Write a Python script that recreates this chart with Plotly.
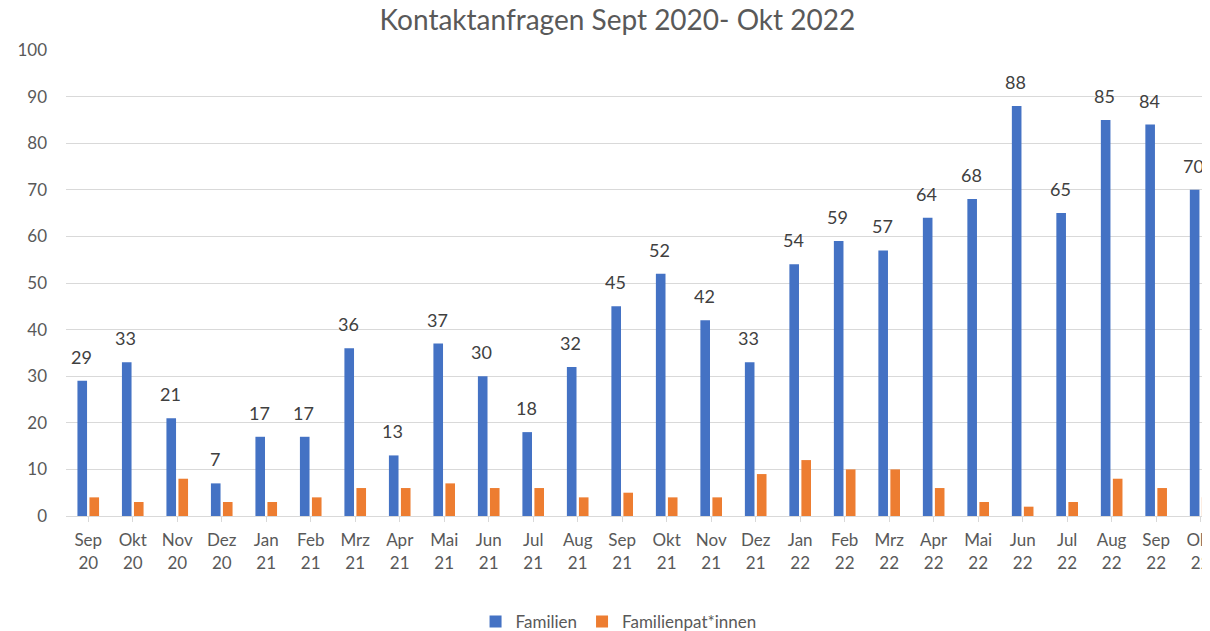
import plotly.graph_objects as go

months = ["Sep", "Okt", "Nov", "Dez", "Jan", "Feb", "Mrz", "Apr", "Mai", "Jun", "Jul", "Aug",
          "Sep", "Okt", "Nov", "Dez", "Jan", "Feb", "Mrz", "Apr", "Mai", "Jun", "Jul", "Aug",
          "Sep", "Okt"]
years = ["20", "20", "20", "20", "21", "21", "21", "21", "21", "21", "21", "21",
         "21", "21", "21", "21", "22", "22", "22", "22", "22", "22", "22", "22",
         "22", "22"]
categories = [f"{m}<br>{y}" for m, y in zip(months, years)]
familien = [29, 33, 21, 7, 17, 17, 36, 13, 37, 30, 18, 32, 45, 52, 42, 33, 54, 59, 57, 64, 68, 88, 65, 85, 84, 70]
paten = [4, 3, 8, 3, 3, 4, 6, 6, 7, 6, 6, 4, 5, 4, 4, 9, 12, 10, 10, 6, 3, 2, 3, 8, 6, 4]

idx = list(range(len(categories)))
FONT = "Lato, Open Sans, sans-serif"
GREY = "#595959"

fig = go.Figure()
fig.add_trace(go.Bar(x=idx, y=familien, name="Familien", marker_color="#4472C4",
                     marker_line_width=0))
fig.add_trace(go.Bar(x=idx, y=paten, name="Familienpat*innen", marker_color="#ED7D31",
                     marker_line_width=0))

for i, v in zip(idx, familien):
    fig.add_annotation(x=i, y=v, text=str(v), showarrow=False, xshift=-7, yshift=11,
                       yanchor="bottom", font=dict(family=FONT, size=18, color="#404040"))

fig.update_layout(
    width=1202, height=623,
    margin=dict(l=58, r=0, t=42, b=115, autoexpand=False),
    paper_bgcolor="white", plot_bgcolor="white",
    barmode="group", bargap=0.46, bargroupgap=0.2,
    title=dict(text="Kontaktanfragen Sept 2020- Okt 2022", x=0.507, xanchor="center",
               y=0.981, yanchor="middle", font=dict(family=FONT, size=28, color=GREY)),
    font=dict(family=FONT, size=17, color=GREY),
    showlegend=True,
    legend=dict(orientation="h", x=0.483, xanchor="center", y=-0.2275, yanchor="middle",
                font=dict(family=FONT, size=17, color=GREY), itemwidth=30,
                traceorder="normal"),
    xaxis=dict(tickmode="array", tickvals=idx, ticktext=categories, range=[-0.5, 25.21],
               showgrid=False, showline=True, linecolor="#d9d9d9", linewidth=1,
               ticks="outside", tickson="boundaries", ticklen=5, tickcolor="#d9d9d9",
               ticklabeloverflow="allow", automargin=False, ticklabelstandoff=4,
               tickfont=dict(family=FONT, size=17, color=GREY), zeroline=False),
    yaxis=dict(range=[0, 100], dtick=10, showgrid=True, gridcolor="#d9d9d9", gridwidth=1,
               zeroline=False, showline=False, ticklabelstandoff=18, automargin=False,
               tickfont=dict(family=FONT, size=17, color=GREY)),
)

fig.write_html("out.html")
